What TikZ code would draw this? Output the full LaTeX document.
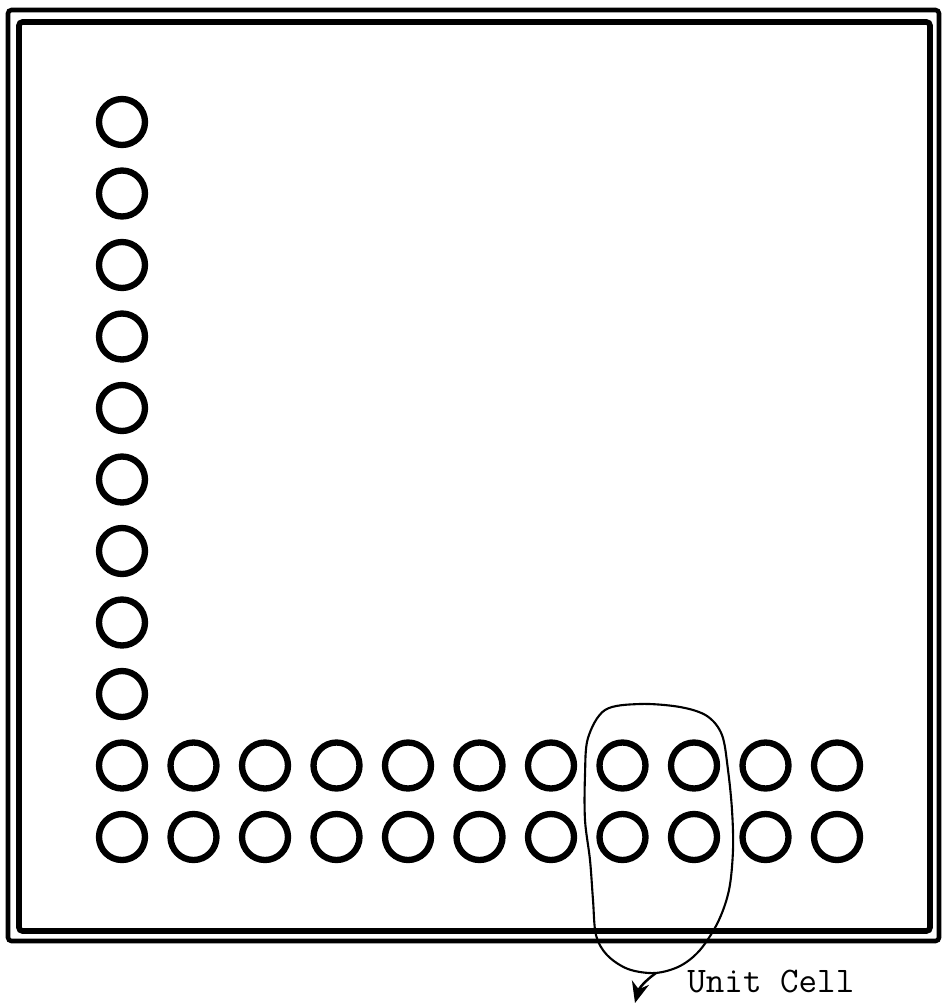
\documentclass[tikz,border=0pt]{standalone}
\usepackage{tikz}
\usetikzlibrary{arrows.meta, positioning, calc}
\tikzset{
  hole/.style={circle, draw, line width=3.6pt, inner sep=0pt, minimum size=0.92cm},
  rim/.style={line width=2.6pt, rounded corners=2pt},
  cellloop/.style={line width=1.2pt},
  ca/.style={-{Stealth[length=12pt, width=10pt]}, line width=1.4pt},
}

\begin{document}
\begin{tikzpicture}[x=0.02cm, y=-0.02cm]
  \useasboundingbox (0,0) rectangle (941,1007);

  % double frame
  \draw[rim] (8,10) rectangle (939,941);
  \draw[rim, line width=3.2pt] (19,22) rectangle (930,931);

  % column of holes
  \foreach \i in {0,...,8}
    \node[hole] (v\i) at (122, 122+71.5*\i) {};

  % two rows of holes
  \foreach \j in {0,...,10} {
    \node[hole] (a\j) at (122+71.5*\j, 765.5) {};
    \node[hole] (b\j) at (122+71.5*\j, 837) {};
  }

  % unit cell loop
  \draw[cellloop] plot[smooth cycle, tension=0.55] coordinates {
    (640,704) (680,707) (707,716) (722,735) (728,770) (732,810)
    (733,850) (729,890) (718,922) (700,950) (680,966) (655,973)
    (628,969) (607,955) (596,935) (593,900) (590,860) (585,820)
    (585,775) (588,738) (605,710)};

  \coordinate (cellbot) at (656,973);
  \coordinate (celltip) at (635,1003);
  \draw[ca] (cellbot) to[out=-145, in=75] (celltip);

  \node[font=\ttfamily\fontsize{20.5}{24}\selectfont, inner sep=0pt,
        anchor=base west] (cellname) at (687,992) {Unit Cell};
\end{tikzpicture}
\end{document}
